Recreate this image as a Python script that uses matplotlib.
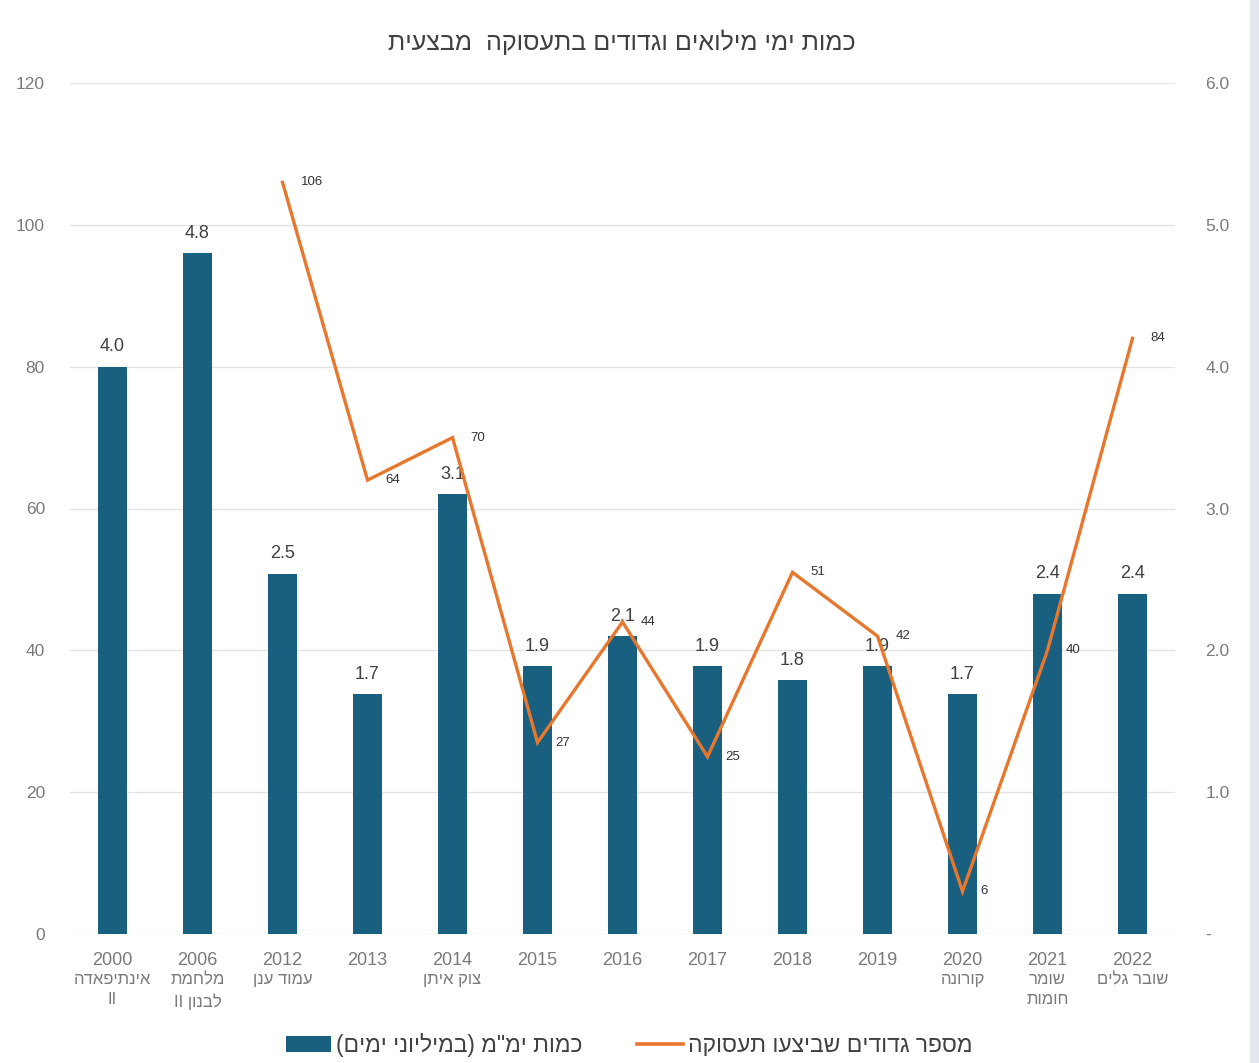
import matplotlib
matplotlib.use("Agg")
import matplotlib.pyplot as plt
from matplotlib.ticker import FuncFormatter
from matplotlib.patches import Rectangle, Patch
from matplotlib.lines import Line2D
from matplotlib.transforms import blended_transform_factory
import numpy as np

plt.rcParams['font.family'] = ['Liberation Sans', 'DejaVu Sans']

# ---- data ----
years = ["2000", "2006", "2012", "2013", "2014", "2015", "2016", "2017", "2018", "2019", "2020", "2021", "2022"]
operations = ["אינתיפאדה\nII", "מלחמת\nלבנון II", "עמוד ענן", "", "צוק איתן", "", "", "", "", "", "קורונה", "שומר\nחומות", "שובר גלים"]
reserve_days_m = [4.0, 4.8, 2.54, 1.69, 3.1, 1.89, 2.1, 1.89, 1.79, 1.89, 1.69, 2.4, 2.4]
battalions = [None, None, 106, 64, 70, 27, 44, 25, 51, 42, 6, 40, 84]

title = "כמות ימי מילואים וגדודים בתעסוקה  מבצעית"
bar_label = 'כמות ימ"מ (במיליוני ימים)'
line_label = "מספר גדודים שביצעו תעסוקה"

BAR_C = "#185F80"
LINE_C = "#E8772E"
TXT = "#7A7A7A"


def is_heb(ch):
    return '\u0590' <= ch <= '\u05FF'


def vis(s):
    """Convert a logical-order RTL string into visual order for LTR rendering."""
    out_lines = []
    mirror = {'(': ')', ')': '('}
    for line in s.split("\n"):
        if not any(is_heb(c) for c in line):
            out_lines.append(line)
            continue
        new_tokens = []
        for t in line.split(" "):
            if any(is_heb(c) for c in t) or all(c in '()"' for c in t):
                new_tokens.append(''.join(mirror.get(c, c) for c in t[::-1]))
            else:
                new_tokens.append(t)
        out_lines.append(" ".join(new_tokens[::-1]))
    return "\n".join(out_lines)


fig = plt.figure(figsize=(12.59, 10.63), dpi=100)
fig.patch.set_facecolor("white")
fig.add_artist(Rectangle((1250 / 1259, 0), 1 - 1250 / 1259, 1, transform=fig.transFigure,
                         facecolor="#E3E8EF", edgecolor="none", zorder=0))

ax = fig.add_axes([70 / 1259, 1 - 934 / 1063, (1175 - 70) / 1259, (934 - 83) / 1063])
ax2 = ax.twinx()

x = np.arange(len(years))

# bars on right axis
ax2.bar(x, reserve_days_m, width=0.33, color=BAR_C, zorder=2)
for xi, v in zip(x, reserve_days_m):
    ax2.text(xi, v + 0.08, f"{v:.1f}", ha="center", va="bottom", fontsize=13, color="#404040", zorder=5)

# line on left axis
lx = [xi for xi, v in zip(x, battalions) if v is not None]
ly = [v for v in battalions if v is not None]
ax.plot(lx, ly, color=LINE_C, lw=2.4, zorder=4, solid_joinstyle="miter")
for xi, v in zip(lx, ly):
    ax.annotate(str(v), (xi, v), xytext=(13, 0), textcoords="offset points",
                ha="left", va="center", fontsize=9.5, color="#333333", zorder=6)

# put line axis above bars
ax.set_zorder(ax2.get_zorder() + 1)
ax.patch.set_visible(False)

ax.set_ylim(0, 120)
ax.set_yticks(np.arange(0, 121, 20))
ax2.set_ylim(0, 6)
ax2.set_yticks(np.arange(0, 6.01, 1))
ax2.yaxis.set_major_formatter(FuncFormatter(lambda v, p: "-" if abs(v) < 1e-9 else f"{v:.1f}"))
ax.set_xlim(-0.5, len(years) - 0.5)

# gridlines behind bars
ax2.yaxis.grid(True, color="#E3E3E3", lw=1, zorder=0)
ax2.set_axisbelow(True)

for a in (ax, ax2):
    for sp in a.spines.values():
        sp.set_visible(False)
    a.tick_params(length=0, colors=TXT, labelsize=12.5)
ax.tick_params(axis="y", pad=18)
ax2.tick_params(axis="y", pad=22)

ax.set_xticks(x)
ax.set_xticklabels(years, fontsize=13, color=TXT)
ax.tick_params(axis="x", pad=13)

trans = blended_transform_factory(ax.transData, fig.transFigure)
for xi, o in zip(x, operations):
    if o:
        ax.text(xi, 1 - 972 / 1063, vis(o), transform=trans, ha="center", va="top",
                fontsize=12, color=TXT, linespacing=1.45)

fig.text(622 / 1259, 1 - 42 / 1063, vis(title), ha="center", va="center", fontsize=18, color="#404040")

handles = [Patch(facecolor=BAR_C, edgecolor="none"), Line2D([0], [0], color=LINE_C, lw=2.6)]
fig.legend(handles, [vis(bar_label), vis(line_label)], loc="center", bbox_to_anchor=(629 / 1259, 1 - 1045 / 1063),
           ncol=2, frameon=False, fontsize=16.5, labelcolor="#404040", columnspacing=2.4,
           handlelength=2.0, handletextpad=0.2)

fig.savefig("out.png", dpi=100, facecolor=fig.get_facecolor())
